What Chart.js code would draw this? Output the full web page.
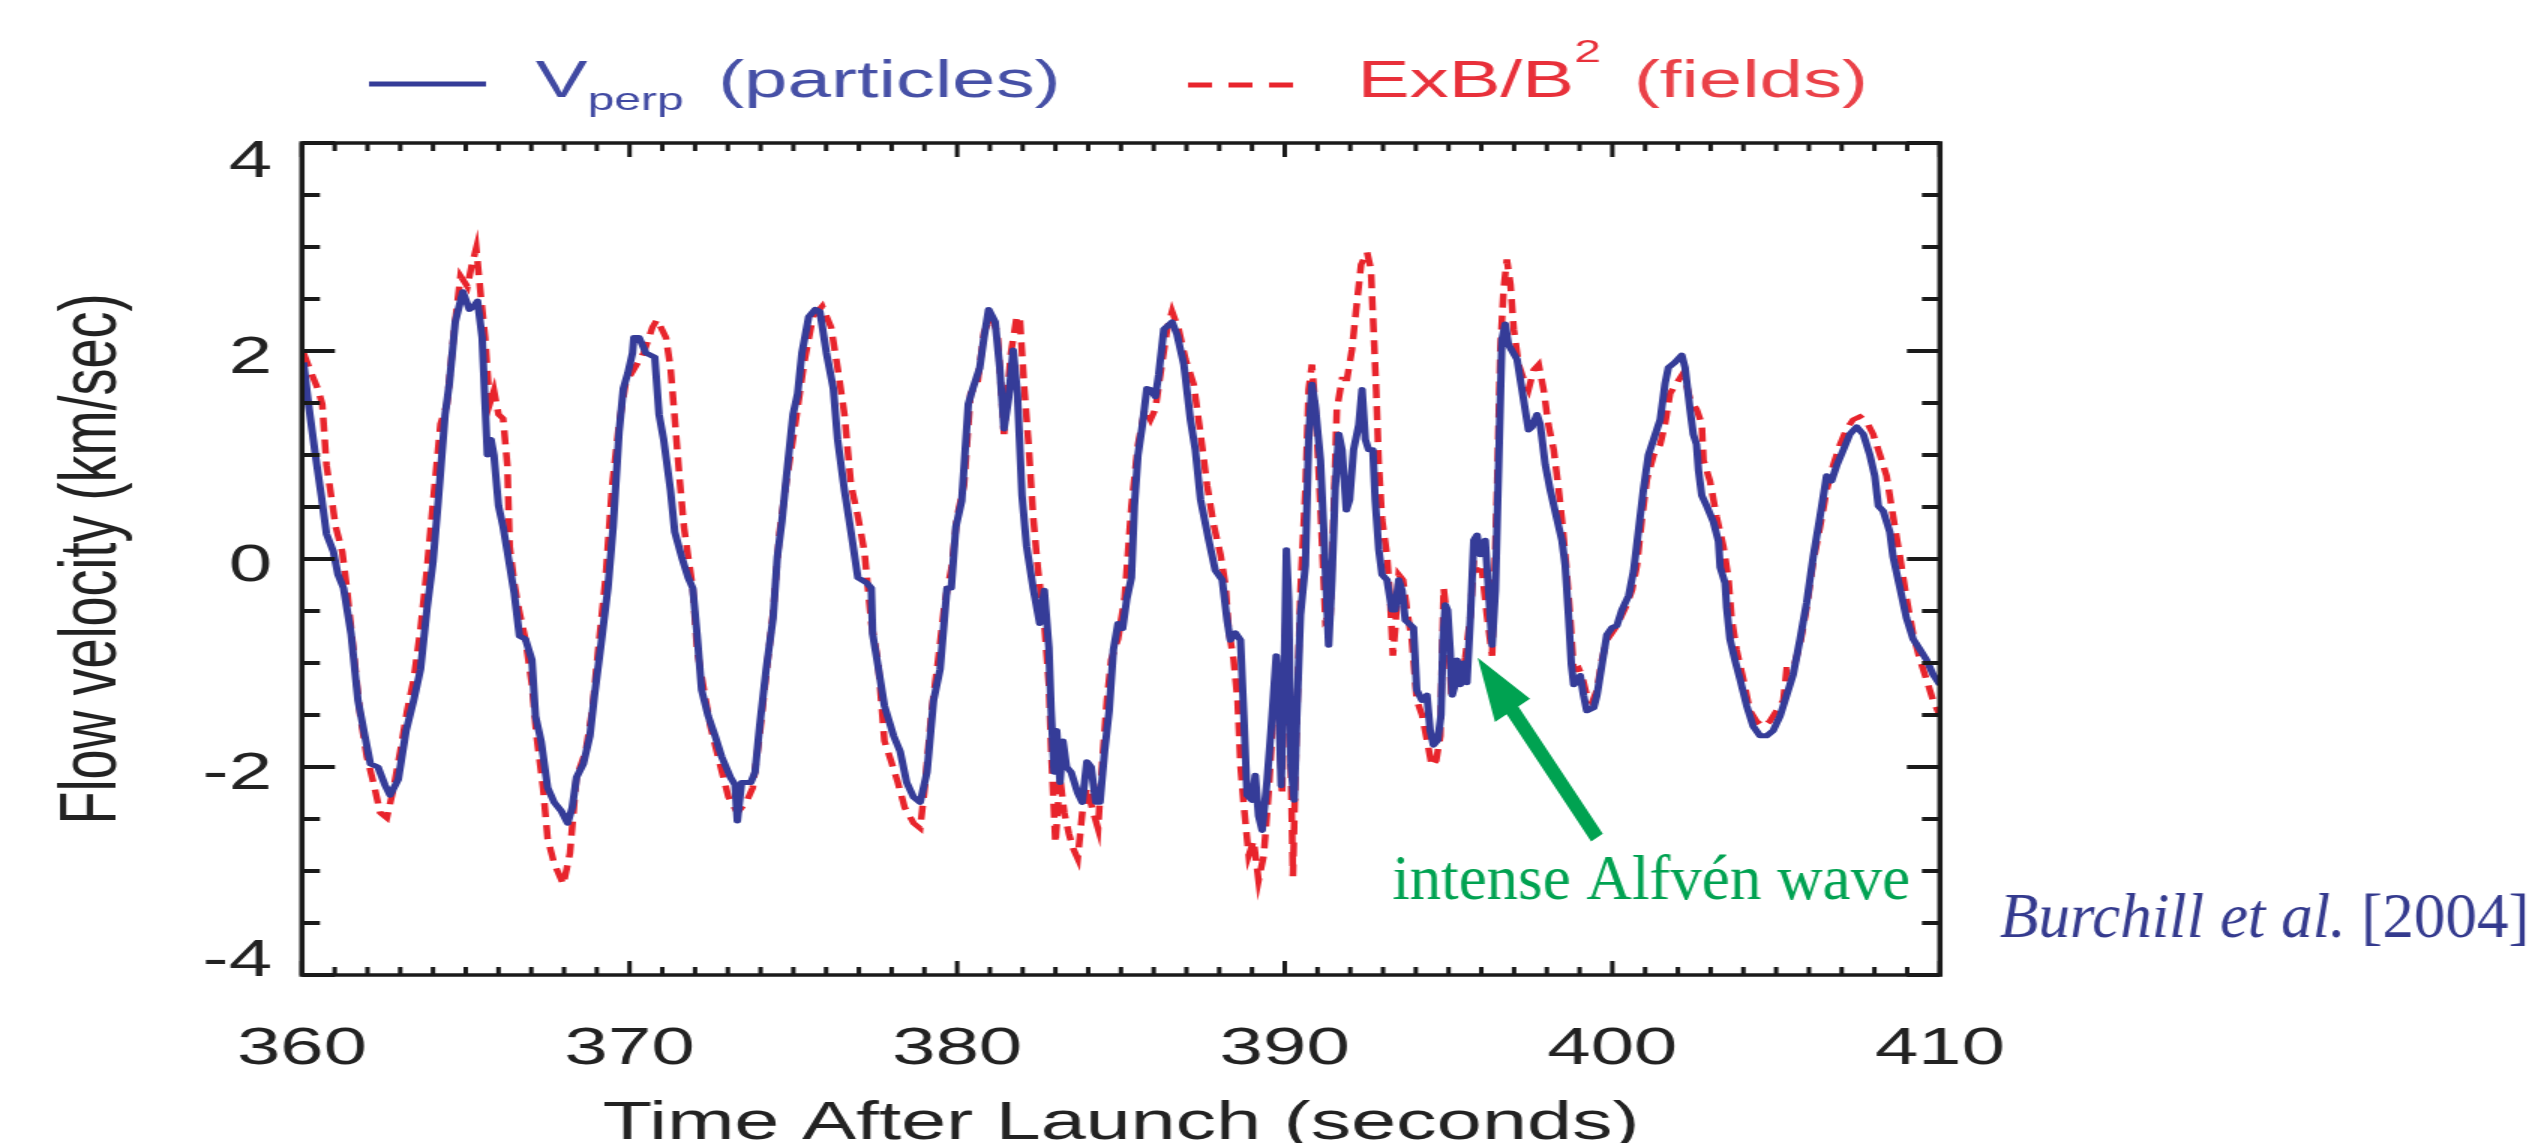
<!DOCTYPE html>
<html>
<head>
<meta charset="utf-8">
<title>Flow velocity</title>
<script src="https://cdn.jsdelivr.net/npm/chart.js@4.4.1/dist/chart.umd.min.js"></script>
<style>
  html, body { margin: 0; padding: 0; background: #fff; overflow: hidden; }
  /* the original figure is stretched sideways: draw it narrow, then widen it */
  #wrap { width: 1694px; height: 1143px; transform: scaleX(1.5); transform-origin: 0 0; }
</style>
</head>
<body>
<div id="wrap"><canvas id="flowChart"></canvas></div>
<script>
const STRETCH = 1.5;
const SANS = "'Liberation Sans', Arial, Helvetica, sans-serif";
const SERIF = "'Liberation Serif', 'Times New Roman', serif";

// V_perp (particles), km/s
const vperpTime = [
  360.05, 360.2, 360.41, 360.59, 360.75, 360.96, 361.1, 361.27, 361.5, 361.71,
  361.92, 362.09, 362.32, 362.53, 362.69, 362.94, 363.18, 363.41, 363.62, 363.82,
  364.0, 364.16, 364.37, 364.5, 364.68, 364.91, 365.11, 365.25, 365.36, 365.5,
  365.59, 365.66, 365.77, 365.86, 366.0, 366.14, 366.27, 366.48, 366.64, 366.82,
  367.02, 367.13, 367.3, 367.5, 367.7, 367.91, 368.11, 368.25, 368.38, 368.59,
  368.79, 368.93, 369.13, 369.34, 369.5, 369.68, 369.81, 369.95, 370.09, 370.13,
  370.29, 370.5, 370.77, 370.9, 371.04, 371.25, 371.38, 371.59, 371.79, 371.93,
  372.06, 372.2, 372.4, 372.61, 372.81, 373.08, 373.22, 373.29, 373.42, 373.7,
  373.83, 373.97, 374.17, 374.38, 374.51, 374.65, 374.79, 374.99, 375.13, 375.26,
  375.47, 375.67, 375.81, 376.01, 376.22, 376.35, 376.56, 376.76, 376.97, 377.24,
  377.38, 377.42, 377.58, 377.78, 378.06, 378.26, 378.46, 378.67, 378.87, 379.08,
  379.28, 379.48, 379.69, 379.82, 379.96, 380.14, 380.34, 380.48, 380.69, 380.82,
  380.96, 381.16, 381.3, 381.43, 381.57, 381.71, 381.84, 381.98, 382.12, 382.32,
  382.52, 382.66, 382.8, 382.87, 382.96, 383.04, 383.14, 383.23, 383.34, 383.48,
  383.68, 383.82, 383.96, 384.09, 384.23, 384.36, 384.5, 384.64, 384.77, 384.91,
  385.05, 385.18, 385.32, 385.41, 385.52, 385.66, 385.79, 385.9, 386.05, 386.15,
  386.31, 386.56, 386.71, 386.92, 387.12, 387.27, 387.43, 387.68, 387.88, 388.09,
  388.24, 388.34, 388.49, 388.65, 388.75, 388.85, 389.0, 389.1, 389.2, 389.31,
  389.46, 389.58, 389.74, 389.81, 389.89, 389.97, 390.05, 390.12, 390.19, 390.29,
  390.37, 390.48, 390.63, 390.73, 390.83, 390.93, 391.09, 391.19, 391.34, 391.44,
  391.54, 391.65, 391.75, 391.88, 391.98, 392.1, 392.26, 392.36, 392.46, 392.56,
  392.69, 392.76, 392.87, 392.97, 393.12, 393.27, 393.37, 393.48, 393.58, 393.68,
  393.93, 394.03, 394.19, 394.34, 394.44, 394.54, 394.67, 394.77, 394.83, 394.9,
  394.97, 395.05, 395.11, 395.2, 395.26, 395.36, 395.46, 395.56, 395.67, 395.77,
  395.87, 395.97, 396.12, 396.22, 396.33, 396.43, 396.53, 396.63, 396.73, 396.83,
  397.09, 397.24, 397.44, 397.55, 397.7, 397.8, 397.95, 398.1, 398.31, 398.46,
  398.56, 398.66, 398.75, 398.82, 398.94, 399.02, 399.12, 399.22, 399.43, 399.53,
  399.68, 399.83, 399.99, 400.14, 400.29, 400.5, 400.65, 400.8, 400.95, 401.1,
  401.26, 401.46, 401.61, 401.71, 401.91, 402.12, 402.22, 402.37, 402.47, 402.57,
  402.63, 402.73, 402.88, 403.08, 403.24, 403.29, 403.44, 403.49, 403.59, 403.74,
  403.9, 404.1, 404.3, 404.51, 404.71, 404.91, 405.12, 405.32, 405.52, 405.73,
  405.93, 406.13, 406.34, 406.54, 406.69, 406.85, 407.05, 407.25, 407.46, 407.66,
  407.86, 408.01, 408.12, 408.27, 408.47, 408.57, 408.78, 408.98, 409.18, 409.39,
  409.59, 409.79, 410.0
];
const vperpValues = [
  1.89, 1.49, 1.0, 0.61, 0.24, 0.07, -0.15, -0.28, -0.72, -1.36,
  -1.7, -1.97, -2.0, -2.17, -2.27, -2.12, -1.65, -1.36, -1.06, -0.47,
  -0.03, 0.56, 1.39, 1.69, 2.28, 2.57, 2.4, 2.43, 2.48, 2.13,
  1.49, 1.0, 1.15, 1.0, 0.51, 0.31, 0.07, -0.33, -0.74, -0.77,
  -0.97, -1.51, -1.75, -2.2, -2.34, -2.42, -2.54, -2.39, -2.1, -1.97,
  -1.7, -1.31, -0.82, -0.28, 0.31, 1.22, 1.64, 1.79, 1.98, 2.13,
  2.13, 1.98, 1.94, 1.39, 1.15, 0.66, 0.26, 0.02, -0.18, -0.28,
  -0.72, -1.26, -1.51, -1.7, -1.9, -2.1, -2.17, -2.52, -2.15, -2.15,
  -2.05, -1.61, -1.06, -0.57, 0.02, 0.36, 0.8, 1.39, 1.59, 1.98,
  2.33, 2.4, 2.38, 1.98, 1.64, 1.15, 0.66, 0.26, -0.18, -0.23,
  -0.28, -0.72, -1.02, -1.41, -1.7, -1.85, -2.15, -2.29, -2.34, -2.05,
  -1.36, -1.06, -0.28, -0.28, 0.31, 0.56, 1.49, 1.64, 1.84, 2.13,
  2.4, 2.28, 1.84, 1.25, 1.54, 2.01, 1.59, 0.61, 0.12, -0.28,
  -0.62, -0.3, -0.85, -1.46, -2.05, -1.65, -2.15, -1.75, -2.0, -2.05,
  -2.25, -2.34, -1.95, -2.0, -2.34, -2.34, -1.85, -1.46, -0.87, -0.62,
  -0.67, -0.38, -0.18, 0.51, 1.0, 1.3, 1.64, 1.63, 1.56, 1.77,
  2.21, 2.28, 2.16, 1.87, 1.34, 1.05, 0.57, 0.18, -0.11, -0.2,
  -0.59, -0.78, -0.71, -0.78, -1.5, -2.27, -2.32, -2.08, -2.47, -2.61,
  -2.13, -1.65, -0.93, -1.26, -2.18, -1.26, 0.09, -0.4, -1.99, -2.32,
  -1.5, -0.54, -0.06, 1.15, 1.68, 1.48, 0.95, 0.28, -0.83, -0.2,
  0.67, 1.2, 1.05, 0.47, 0.57, 1.05, 1.29, 1.63, 1.15, 1.05,
  1.05, 0.57, 0.09, -0.15, -0.2, -0.49, -0.49, -0.2, -0.3, -0.59,
  -0.66, -1.26, -1.36, -1.31, -1.65, -1.79, -1.74, -1.5, -0.78, -0.44,
  -0.49, -0.88, -1.31, -1.21, -0.97, -1.21, -1.0, -1.19, -0.54, 0.18,
  0.23, 0.04, 0.18, -0.3, -0.83, -0.3, 0.91, 2.11, 2.26, 2.06,
  1.92, 1.63, 1.24, 1.27, 1.39, 1.29, 0.91, 0.67, 0.38, 0.18,
  -0.06, -0.54, -1.02, -1.21, -1.17, -1.12, -1.31, -1.46, -1.43, -1.31,
  -1.02, -0.73, -0.66, -0.64, -0.49, -0.35, -0.11, 0.28, 0.67, 1.0,
  1.15, 1.34, 1.69, 1.84, 1.89, 1.96, 1.84, 1.44, 1.2, 1.1,
  0.85, 0.61, 0.51, 0.36, 0.17, -0.08, -0.23, -0.47, -0.77, -0.97,
  -1.16, -1.41, -1.61, -1.7, -1.7, -1.65, -1.51, -1.31, -1.11, -0.77,
  -0.42, 0.02, 0.41, 0.8, 0.75, 0.9, 1.05, 1.2, 1.27, 1.2,
  1.0, 0.8, 0.51, 0.46, 0.26, 0.02, -0.28, -0.57, -0.77, -0.87,
  -0.97, -1.11, -1.21
];

// ExB/B^2 (fields), km/s
const exbTime = [
  360.05, 360.28, 360.48, 360.62, 360.75, 360.89, 361.03, 361.23, 361.37, 361.57,
  361.78, 361.98, 362.18, 362.39, 362.59, 362.8, 363.0, 363.21, 363.41, 363.62,
  363.82, 364.02, 364.23, 364.43, 364.64, 364.84, 365.05, 365.18, 365.32, 365.46,
  365.59, 365.73, 365.86, 366.0, 366.14, 366.27, 366.34, 366.48, 366.61, 366.82,
  367.02, 367.16, 367.36, 367.5, 367.7, 367.98, 368.18, 368.38, 368.66, 368.86,
  369.06, 369.27, 369.47, 369.68, 369.88, 370.16, 370.43, 370.7, 370.84, 371.11,
  371.25, 371.38, 371.52, 371.66, 371.79, 371.93, 372.06, 372.27, 372.47, 372.74,
  373.02, 373.29, 373.56, 373.76, 373.97, 374.17, 374.38, 374.58, 374.79, 375.06,
  375.33, 375.6, 375.88, 376.15, 376.35, 376.56, 376.76, 376.97, 377.17, 377.38,
  377.58, 377.78, 377.99, 378.19, 378.4, 378.67, 378.87, 379.01, 379.22, 379.42,
  379.62, 379.83, 380.0, 380.21, 380.41, 380.62, 380.82, 381.03, 381.23, 381.43,
  381.64, 381.82, 381.91, 382.05, 382.18, 382.32, 382.46, 382.66, 382.8, 382.87,
  383.0, 383.14, 383.27, 383.41, 383.55, 383.68, 383.82, 383.96, 384.16, 384.3,
  384.43, 384.57, 384.7, 384.91, 385.11, 385.32, 385.52, 385.73, 385.9, 386.05,
  386.2, 386.41, 386.56, 386.76, 386.97, 387.22, 387.43, 387.63, 387.83, 388.04,
  388.19, 388.29, 388.44, 388.56, 388.65, 388.75, 388.9, 389.05, 389.2, 389.36,
  389.51, 389.71, 389.81, 389.92, 389.99, 390.07, 390.17, 390.25, 390.35, 390.48,
  390.63, 390.73, 390.83, 390.96, 391.1, 391.24, 391.39, 391.49, 391.59, 391.75,
  391.9, 392.05, 392.18, 392.33, 392.51, 392.63, 392.71, 392.79, 392.87, 392.97,
  393.12, 393.22, 393.3, 393.37, 393.48, 393.61, 393.73, 393.88, 394.03, 394.19,
  394.34, 394.49, 394.62, 394.75, 394.85, 394.93, 395.08, 395.2, 395.36, 395.51,
  395.67, 395.77, 395.87, 396.02, 396.17, 396.33, 396.48, 396.58, 396.68, 396.78,
  396.89, 396.99, 397.14, 397.29, 397.44, 397.6, 397.75, 397.9, 398.05, 398.21,
  398.36, 398.46, 398.59, 398.72, 398.82, 398.97, 399.07, 399.22, 399.38, 399.53,
  399.68, 399.83, 399.99, 400.14, 400.29, 400.44, 400.6, 400.75, 400.9, 401.05,
  401.26, 401.46, 401.61, 401.76, 401.96, 402.17, 402.37, 402.57, 402.73, 402.78,
  402.98, 403.18, 403.39, 403.54, 403.64, 403.79, 404.0, 404.2, 404.4, 404.61,
  404.81, 405.01, 405.22, 405.32, 405.52, 405.73, 405.93, 406.13, 406.34, 406.54,
  406.74, 406.95, 407.15, 407.35, 407.56, 407.76, 407.96, 408.17, 408.37, 408.57,
  408.78, 408.98, 409.18, 409.39, 409.59, 409.79, 410.0
];
const exbValues = [
  1.98, 1.79, 1.64, 1.49, 0.9, 0.61, 0.31, 0.07, -0.28, -0.87,
  -1.51, -1.9, -2.15, -2.44, -2.49, -2.2, -1.85, -1.46, -1.16, -0.67,
  -0.08, 0.61, 1.3, 1.49, 2.18, 2.72, 2.62, 2.82, 2.99, 2.53,
  2.13, 1.49, 1.62, 1.39, 1.35, 0.9, 0.12, -0.23, -0.47, -0.77,
  -1.21, -1.7, -2.2, -2.69, -2.93, -3.13, -2.83, -2.1, -1.85, -1.46,
  -0.82, -0.18, 0.71, 1.3, 1.69, 1.84, 1.98, 2.23, 2.3, 2.13,
  1.84, 1.35, 0.8, 0.31, 0.02, -0.28, -0.87, -1.26, -1.61, -1.95,
  -2.29, -2.44, -2.34, -2.2, -1.7, -1.11, -0.52, 0.26, 0.75, 1.3,
  1.89, 2.33, 2.43, 2.23, 1.84, 1.39, 0.71, 0.41, 0.07, -0.62,
  -0.97, -1.75, -1.95, -2.15, -2.39, -2.54, -2.59, -2.2, -1.46, -0.97,
  -0.42, -0.08, 0.41, 0.71, 1.59, 1.69, 2.18, 2.33, 2.18, 1.2,
  1.98, 2.33, 2.33, 1.64, 1.1, 0.41, -0.08, -0.62, -1.21, -1.85,
  -2.73, -2.1, -2.44, -2.64, -2.79, -2.88, -2.44, -2.2, -2.44, -2.59,
  -1.95, -1.36, -0.97, -0.77, -0.38, 0.51, 1.1, 1.44, 1.34, 1.44,
  1.77, 2.21, 2.38, 2.21, 1.92, 1.68, 1.2, 0.71, 0.33, 0.04,
  -0.25, -0.68, -0.97, -1.36, -1.99, -2.37, -2.85, -2.71, -3.09, -2.85,
  -2.23, -1.17, -1.36, -2.27, -1.02, -0.2, -1.74, -3.05, -1.74, -0.3,
  0.67, 1.63, 1.87, 1.34, 0.42, -0.59, -0.54, 0.42, 1.44, 1.73,
  1.73, 2.01, 2.4, 2.83, 2.95, 2.79, 2.21, 1.63, 0.91, 0.38,
  0.04, -0.4, -0.93, -0.68, -0.15, -0.2, -0.49, -0.78, -1.36, -1.5,
  -1.74, -1.99, -1.94, -1.7, -0.28, -0.5, -1.26, -1.24, -1.21, -0.95,
  -0.54, -0.01, -0.11, -0.11, -0.54, -0.93, 0.67, 2.01, 2.59, 2.88,
  2.64, 2.21, 1.87, 1.73, 1.63, 1.82, 1.87, 1.63, 1.29, 1.05,
  0.67, 0.38, -0.06, -0.59, -1.07, -1.05, -1.12, -1.31, -1.38, -1.26,
  -0.97, -0.78, -0.71, -0.64, -0.54, -0.44, -0.3, -0.06, 0.38, 0.76,
  1.0, 1.1, 1.3, 1.59, 1.69, 1.79, 1.54, 1.44, 1.3, 0.95,
  0.75, 0.41, 0.12, -0.18, -0.57, -0.87, -1.16, -1.46, -1.56, -1.61,
  -1.56, -1.46, -1.36, -1.06, -1.06, -0.82, -0.47, -0.03, 0.31, 0.66,
  0.9, 1.1, 1.25, 1.34, 1.37, 1.32, 1.2, 1.0, 0.8, 0.41,
  0.02, -0.38, -0.72, -0.97, -1.16, -1.36, -1.51
];

const xTickValues = [360, 370, 380, 390, 400, 410];
const yTickValues = [-4, -2, 0, 2, 4];

// annotation anchors, in data units
const arrowTip = [395.89, -0.95];
const arrowTail = [399.53, -2.68];
const noteAt = [393.28, -3.27];

function toPoints(xs, ys) {
  return xs.map((t, i) => ({ x: t, y: ys[i] }));
}

// tick marks pointing inward, the box, and the y labels
const frameTicks = {
  id: 'frameTicks',
  afterDatasetsDraw(chart) {
    const { ctx, chartArea: a, scales: { x, y } } = chart;
    ctx.save();
    ctx.strokeStyle = '#1a1a1a';
    ctx.lineWidth = 3;
    for (let t = xTickValues[0]; t <= xTickValues[xTickValues.length - 1]; t++) {
      const px = x.getPixelForValue(t);
      const len = t % 10 === 0 ? 14 : 8;
      ctx.beginPath();
      ctx.moveTo(px, a.bottom); ctx.lineTo(px, a.bottom - len);
      ctx.moveTo(px, a.top); ctx.lineTo(px, a.top + len);
      ctx.stroke();
    }
    ctx.lineWidth = 4;
    for (let v = -4; v <= 4; v += 0.5) {
      const py = y.getPixelForValue(v);
      const len = v % 2 === 0 ? 22 : 12;
      ctx.beginPath();
      ctx.moveTo(a.left, py); ctx.lineTo(a.left + len, py);
      ctx.moveTo(a.right, py); ctx.lineTo(a.right - len, py);
      ctx.stroke();
    }
    ctx.lineWidth = 3.5;
    ctx.strokeRect(a.left, a.top, a.right - a.left, a.bottom - a.top);

    ctx.font = '52px ' + SANS;
    ctx.fillStyle = '#222';
    ctx.textAlign = 'right';
    ctx.textBaseline = 'middle';
    yTickValues.forEach(v => {
      let py = y.getPixelForValue(v) + 8;
      py = Math.min(Math.max(py, a.top + 20), a.bottom - 13);
      ctx.fillText(String(v), a.left - 20, py);
    });
    ctx.restore();
  }
};

function drawParts(ctx, x, base, parts) {
  parts.forEach(p => {
    ctx.font = p.font;
    ctx.fillStyle = p.color;
    ctx.fillText(p.text, x, base + (p.dy || 0));
    x += ctx.measureText(p.text).width + (p.gap || 0);
  });
}

// legend with sub/superscripts, the arrow and the two notes
const notes = {
  id: 'notes',
  afterDraw(chart) {
    const { ctx, chartArea: a, scales: { x, y } } = chart;
    ctx.save();
    ctx.textAlign = 'left';
    ctx.textBaseline = 'alphabetic';

    ctx.lineWidth = 5;
    ctx.strokeStyle = '#353c98';
    ctx.beginPath(); ctx.moveTo(246, 84); ctx.lineTo(324, 84); ctx.stroke();
    drawParts(ctx, 357, 97, [
      { text: 'V', font: '52px ' + SANS, color: '#4049a2' },
      { text: 'perp', font: '32px ' + SANS, color: '#4049a2', dy: 13, gap: 23 },
      { text: '(particles)', font: '52px ' + SANS, color: '#4650a6' }
    ]);

    ctx.strokeStyle = '#e8242c';
    ctx.setLineDash([16, 11]);
    ctx.beginPath(); ctx.moveTo(792, 85); ctx.lineTo(862, 85); ctx.stroke();
    ctx.setLineDash([]);
    drawParts(ctx, 905, 97, [
      { text: 'ExB/B', font: '52px ' + SANS, color: '#e8303a' },
      { text: '2', font: '32px ' + SANS, color: '#e8303a', dy: -35, gap: 22 },
      { text: '(fields)', font: '52px ' + SANS, color: '#ea4148' }
    ]);

    // the notes were pasted on after the widening, so undo it here
    ctx.scale(1 / STRETCH, 1);
    const tx = x.getPixelForValue(arrowTip[0]) * STRETCH, ty = y.getPixelForValue(arrowTip[1]);
    const sx = x.getPixelForValue(arrowTail[0]) * STRETCH, sy = y.getPixelForValue(arrowTail[1]);
    const len = Math.hypot(tx - sx, ty - sy);
    const ux = (tx - sx) / len, uy = (ty - sy) / len;
    const nx = -uy, ny = ux;
    const head = 63, hw = 21, sw = 7;
    const bx = tx - ux * head, by = ty - uy * head;
    ctx.fillStyle = '#00a251';
    ctx.beginPath();
    ctx.moveTo(tx, ty);
    ctx.lineTo(bx + nx * hw, by + ny * hw);
    ctx.lineTo(bx + nx * sw, by + ny * sw);
    ctx.lineTo(sx + nx * sw, sy + ny * sw);
    ctx.lineTo(sx - nx * sw, sy - ny * sw);
    ctx.lineTo(bx - nx * sw, by - ny * sw);
    ctx.lineTo(bx - nx * hw, by - ny * hw);
    ctx.closePath();
    ctx.fill();

    ctx.font = '63px ' + SERIF;
    ctx.fillText('intense Alfvén wave', x.getPixelForValue(noteAt[0]) * STRETCH, y.getPixelForValue(noteAt[1]));

    drawParts(ctx, a.right * STRETCH + 60, a.bottom - 38, [
      { text: 'Burchill et al.', font: 'italic 63px ' + SERIF, color: '#343a8e' },
      { text: ' [2004]', font: '63px ' + SERIF, color: '#343a8e' }
    ]);
    ctx.restore();
  }
};

Chart.defaults.font.family = SANS;
Chart.defaults.color = '#222';

new Chart(document.getElementById('flowChart'), {
  type: 'line',
  data: {
    datasets: [{
      label: 'Vperp (particles)',
      data: toPoints(vperpTime, vperpValues),
      borderColor: '#353c98',
      borderWidth: 5,
      borderJoinStyle: 'round',
      pointRadius: 0,
      tension: 0
    }, {
      label: 'ExB/B2 (fields)',
      data: toPoints(exbTime, exbValues),
      borderColor: '#e8242c',
      borderWidth: 4.5,
      borderDash: [14, 8],
      pointRadius: 0,
      tension: 0
    }]
  },
  options: {
    responsive: true,
    maintainAspectRatio: false,
    animation: false,
    events: [],
    layout: { padding: { left: 0, right: 400.7, top: 143, bottom: -18 } },
    plugins: {
      legend: { display: false },
      tooltip: { enabled: false }
    },
    scales: {
      x: {
        type: 'linear',
        min: 360,
        max: 410,
        afterBuildTicks: s => { s.ticks = xTickValues.map(v => ({ value: v })); },
        afterFit: s => { s.height = 186; },
        grid: { display: false, drawTicks: false },
        border: { display: false },
        ticks: { font: { size: 52 }, color: '#222', padding: 43, maxRotation: 0 },
        title: {
          display: true,
          text: 'Time After Launch (seconds)',
          font: { size: 54 },
          color: '#222',
          padding: { top: 0, bottom: 4 }
        }
      },
      y: {
        min: -4,
        max: 4,
        afterFit: s => { s.width = 201.3; },
        grid: { display: false, drawTicks: false },
        border: { display: false },
        ticks: { display: false },
        title: {
          display: true,
          text: 'Flow velocity (km/sec)',
          font: { size: 54 },
          color: '#222',
          padding: { top: 30, bottom: 0 }
        }
      }
    }
  },
  plugins: [frameTicks, notes]
});
</script>
</body>
</html>
